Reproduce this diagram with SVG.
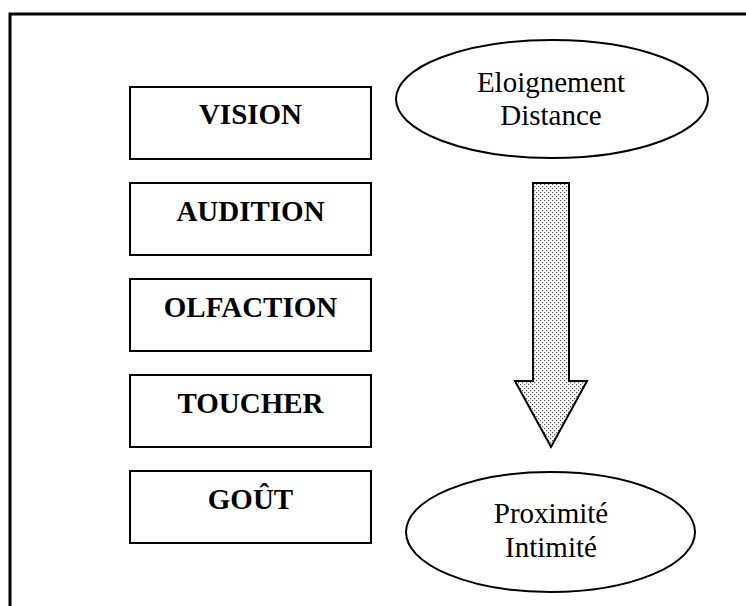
<svg xmlns="http://www.w3.org/2000/svg" width="746" height="606" viewBox="0 0 746 606">
<style>
  .box { fill: #fff; stroke: #000; stroke-width: 2; }
  .ell { fill: #fff; stroke: #000; stroke-width: 2; }
  .bt { font-family: "Liberation Serif", "Times New Roman", serif; font-weight: bold; font-size: 29px; text-anchor: middle; fill: #000; }
  .et { font-family: "Liberation Serif", "Times New Roman", serif; font-size: 29px; text-anchor: middle; fill: #000; }
  .frame { fill: none; stroke: #000; stroke-width: 3; }
</style>
<defs>
  <pattern id="dots" width="4" height="4" patternUnits="userSpaceOnUse">
    <rect width="4" height="4" fill="#fff"/>
    <rect x="0" y="0" width="1.2" height="1.2" fill="#555"/>
    <rect x="2" y="2" width="1.2" height="1.2" fill="#555"/>
  </pattern>
</defs>
<rect width="746" height="606" fill="#fff"/>
<path class="frame" d="M10 606 V14 H746"/>

<g id="vision"><rect class="box" x="130" y="87" width="241" height="72"/><text class="bt" x="250.5" y="124">VISION</text></g>
<g id="audition"><rect class="box" x="130" y="183" width="241" height="72"/><text class="bt" x="250.5" y="221">AUDITION</text></g>
<g id="olfaction"><rect class="box" x="130" y="279" width="241" height="72"/><text class="bt" x="250.5" y="317">OLFACTION</text></g>
<g id="toucher"><rect class="box" x="130" y="375" width="241" height="72"/><text class="bt" x="250.5" y="413">TOUCHER</text></g>
<g id="gout"><rect class="box" x="130" y="471" width="241" height="72"/><text class="bt" x="250.5" y="509">GOÛT</text></g>

<g id="eloignement"><ellipse class="ell" cx="552" cy="99" rx="156" ry="59"/><text class="et" x="551" y="92">Eloignement</text><text class="et" x="551" y="125">Distance</text></g>
<g id="proximite"><ellipse class="ell" cx="550.5" cy="532" rx="144.5" ry="60"/><text class="et" x="551" y="523">Proximité</text><text class="et" x="551" y="557">Intimité</text></g>

<g id="connectors">
  <path d="M533 183 H569 V381 H587 L551 447 L515 381 H533 Z" fill="url(#dots)" stroke="#000" stroke-width="2" stroke-linejoin="miter"/>
</g>
</svg>
